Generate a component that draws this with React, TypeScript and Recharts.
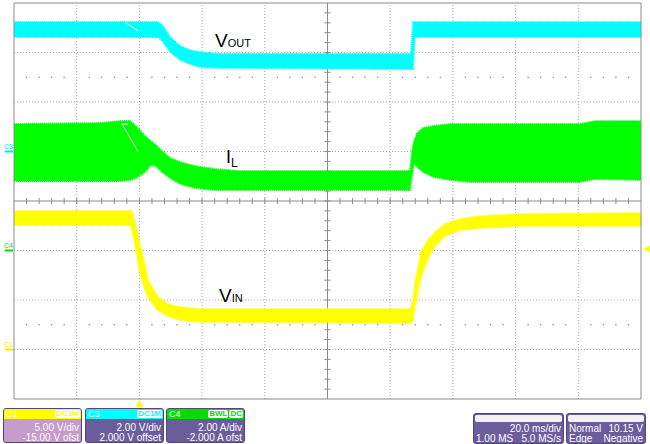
import React from "react";
import {
  Area,
  ComposedChart,
  ReferenceDot,
  ReferenceLine,
  XAxis,
  YAxis,
} from "recharts";

// 20 ms/div, 10 divisions across; the screen grid follows the C1 scale (5 V/div, 8 div)
const timeTicks = [-100, -80, -60, -40, -20, 0, 20, 40, 60, 80, 100];
const gridLevels = [-5, 0, 5, 10, 15, 20, 25, 30, 35];
const screenCenter = 15;

// C3 - VOUT (2 V/div, 2.000 V offset)
const voutTime = [-100, -54.1, -52.7, -50.2, -47.0, -43.9, -40.7, -34.3, 26.6, 27.3, 27.9, 100];
const voutHigh = [5.23, 5.23, 5.11, 4.63, 4.26, 4.1, 4.02, 3.94, 3.94, 5.23, 5.23, 5.23];
const voutLow = [4.63, 4.63, 4.46, 4.02, 3.7, 3.54, 3.41, 3.37, 3.33, 3.33, 4.63, 4.63];

// C4 - IL (2 A/div, -2.000 A offset)
const ilTime = [-100, -72.6, -66.2, -63.0, -61.1, -58.2, -56.3, -54.7, -52.8, -50.2, -47.0, -42.3, -35.9, -27.9, 26.3, 27.0, 27.6, 28.6, 30.5, 33.7, 39.1, 45.5, 80.5, 85.3, 100];
const ilHigh = [5.11, 5.15, 5.23, 5.23, 5.03, 4.63, 4.42, 4.26, 4.02, 3.74, 3.58, 3.41, 3.29, 3.21, 3.21, 4.06, 4.42, 4.75, 4.95, 5.03, 5.11, 5.11, 5.11, 5.23, 5.23];
const ilLow = [2.81, 2.81, 2.81, 2.85, 2.93, 3.17, 3.45, 3.41, 3.17, 2.93, 2.69, 2.53, 2.44, 2.44, 2.44, 3.05, 3.54, 3.37, 3.17, 2.97, 2.85, 2.77, 2.77, 2.89, 2.85];

// C1 - VIN (5 V/div, -15.00 V offset)
const vinTime = [-100, -62.7, -62.0, -61.1, -59.8, -58.5, -57.3, -54.3, -51.1, -47.0, -40.7, 26.3, 27.3, 27.9, 28.9, 30.1, 32.1, 34.3, 37.5, 42.3, 48.6, 61.4, 100];
const vinHigh = [13.99, 13.99, 13.69, 12.58, 10.56, 8.84, 7.02, 5.4, 4.6, 4.29, 4.09, 4.09, 5.0, 6.72, 8.33, 10.05, 11.06, 11.87, 12.68, 13.18, 13.48, 13.69, 13.79];
const vinLow = [12.58, 12.58, 11.57, 10.05, 7.53, 6.31, 5.3, 3.99, 3.38, 2.98, 2.78, 2.68, 2.98, 4.49, 6.01, 7.53, 9.24, 10.45, 11.46, 12.07, 12.27, 12.47, 12.47];

const triggerTime = -60;
const triggerLevel = 10.15;

const voutData = voutTime.map((t, i) => ({ t, band: [voutLow[i], voutHigh[i]] }));
const ilData = ilTime.map((t, i) => ({ t, band: [ilLow[i], ilHigh[i]] }));
const vinData = vinTime.map((t, i) => ({ t, band: [vinLow[i], vinHigh[i]] }));

// minor divisions (1/5 div) on the centre axes
const minorT = Array.from({ length: 49 }, (_, i) => -96 + i * 4);
const minorV = Array.from({ length: 39 }, (_, i) => -4 + i);
const dotT = minorT.filter((t) => t % 20 !== 0);

const FONT = "'Liberation Sans', Arial, sans-serif";
const GRID = "#a6a6a6";
const AXIS = "#8c8c8c";
const BACK = -50; // keep the graticule behind the traces

const groundMark = (name: string, color: string) => (p: any) => (
  <g>
    <text x={p.cx - 10} y={p.cy - 3} fontSize={7} fill={color} fontFamily={FONT}>
      {name}
    </text>
    <line x1={p.cx - 9} x2={p.cx - 1} y1={p.cy} y2={p.cy} stroke={color} strokeWidth={2} />
  </g>
);

const ChannelBox = ({ left, name, color, body, badges, lines }: any) => (
  <div
    style={{
      position: "absolute",
      left,
      top: 408,
      width: 77,
      height: 33,
      border: "1px solid #54467a",
      borderRadius: 3,
      background: body,
      overflow: "hidden",
      fontFamily: FONT,
      color: "#fff",
    }}
  >
    <div
      style={{
        height: 10,
        background: color,
        display: "flex",
        alignItems: "center",
        justifyContent: "space-between",
        padding: "0 1px 0 2px",
        fontSize: 9,
      }}
    >
      <span>{name}</span>
      <span style={{ display: "flex", gap: 1 }}>
        {badges.map((b: string) => (
          <span
            key={b}
            style={{
              background: "#fff",
              color,
              fontSize: 8,
              fontWeight: "bold",
              lineHeight: "8px",
              padding: "0 1px",
              borderRadius: 2,
            }}
          >
            {b}
          </span>
        ))}
      </span>
    </div>
    <div style={{ textAlign: "right", fontSize: 10, lineHeight: "10px", paddingRight: 2, paddingTop: 4 }}>
      {lines.map((l: string) => (
        <div key={l}>{l}</div>
      ))}
    </div>
  </div>
);

const InfoBox = ({ left, width, rows }: any) => (
  <div
    style={{
      position: "absolute",
      left,
      top: 413,
      width,
      height: 29,
      border: "1px solid #54467a",
      borderRadius: 3,
      background: "#6b5d9b",
      overflow: "hidden",
      fontFamily: FONT,
      color: "#fff",
      fontSize: 10,
      lineHeight: "10px",
    }}
  >
    <div style={{ height: 7, background: "#f3f3f7", margin: "1px 1px 0 1px", borderRadius: 2 }} />
    <div style={{ padding: "2px 2px 0 2px" }}>
      {rows.map((r: string[], i: number) => (
        <div key={i} style={{ display: "flex", justifyContent: "space-between" }}>
          <span>{r[0]}</span>
          <span>{r[1]}</span>
        </div>
      ))}
    </div>
  </div>
);

const bandProps = {
  type: "linear" as const,
  dataKey: "band",
  fillOpacity: 1,
  strokeWidth: 2,
  strokeDasharray: "1 1",
  dot: false,
  activeDot: false,
  isAnimationActive: false,
};

export default function App() {
  return (
    <div style={{ position: "absolute", left: 0, top: 0, width: 650, height: 444, background: "#fff" }}>
      <ComposedChart width={650} height={444} margin={{ top: 3, right: 9, bottom: 45, left: 14 }}>
        <XAxis type="number" dataKey="t" domain={[-100, 100]} ticks={timeTicks} hide allowDataOverflow />
        <YAxis yAxisId="vout" type="number" domain={[-10, 6]} hide allowDataOverflow />
        <YAxis yAxisId="il" type="number" domain={[-6, 10]} hide allowDataOverflow />
        <YAxis yAxisId="vin" type="number" domain={[-5, 35]} hide allowDataOverflow />

        {timeTicks.slice(1, -1).filter((t) => t !== 0).map((t) => (
          <ReferenceLine key={"gx" + t} x={t} yAxisId="vin" stroke={GRID} strokeDasharray="1 2" zIndex={BACK} />
        ))}
        {gridLevels.slice(1, -1).filter((v) => v !== screenCenter).map((v) => (
          <ReferenceLine key={"gy" + v} y={v} yAxisId="vin" stroke={GRID} strokeDasharray="1 2" zIndex={BACK} />
        ))}
        <ReferenceLine x={0} yAxisId="vin" stroke={AXIS} zIndex={BACK} />
        <ReferenceLine y={screenCenter} yAxisId="vin" stroke={AXIS} zIndex={BACK} />
        {minorT.map((t) => (
          <ReferenceLine
            key={"tx" + t}
            yAxisId="vin"
            stroke={AXIS}
            zIndex={BACK}
            segment={[{ x: t, y: screenCenter - 0.3 }, { x: t, y: screenCenter + 0.3 }]}
          />
        ))}
        {minorV.map((v) => (
          <ReferenceLine
            key={"ty" + v}
            yAxisId="vin"
            stroke={AXIS}
            zIndex={BACK}
            segment={[{ x: -1, y: v }, { x: 1, y: v }]}
          />
        ))}
        {dotT.map((t) => (
          <ReferenceDot key={"da" + t} x={t} y={screenCenter + 12.5} yAxisId="vin" r={0.8} fill={AXIS} stroke="none" zIndex={BACK} />
        ))}
        {dotT.map((t) => (
          <ReferenceDot key={"db" + t} x={t} y={screenCenter - 12.5} yAxisId="vin" r={0.8} fill={AXIS} stroke="none" zIndex={BACK} />
        ))}
        <ReferenceLine x={-100} yAxisId="vin" stroke="#8a8a8a" />
        <ReferenceLine x={100} yAxisId="vin" stroke="#8a8a8a" />
        <ReferenceLine y={35} yAxisId="vin" stroke="#8a8a8a" />
        <ReferenceLine y={-5} yAxisId="vin" stroke="#8a8a8a" />

        <Area {...bandProps} data={voutData} yAxisId="vout" fill="#00ffff" stroke="#00ffff" />
        <Area {...bandProps} data={ilData} yAxisId="il" fill="#00ff00" stroke="#00ff00" />
        <Area {...bandProps} data={vinData} yAxisId="vin" fill="#ffff00" stroke="#ffff00" />

        {/* cursor remnants on the traces */}
        <ReferenceLine yAxisId="vout" stroke="#ffffff" segment={[{ x: -64.6, y: 5.23 }, { x: -60.4, y: 4.87 }]} />
        <ReferenceLine yAxisId="il" stroke="#ffffff" segment={[{ x: -65.5, y: 5.11 }, { x: -60.4, y: 3.98 }]} />
        <ReferenceLine yAxisId="il" stroke="#ffffff" segment={[{ x: -65.8, y: 5.11 }, { x: -63.6, y: 5.11 }]} />

        <ReferenceDot x={-100} y={0} yAxisId="vout" ifOverflow="visible" shape={groundMark("C3", "#00e5ff")} />
        <ReferenceDot x={-100} y={0} yAxisId="il" ifOverflow="visible" shape={groundMark("C4", "#00dd00")} />
        <ReferenceDot x={-100} y={0} yAxisId="vin" ifOverflow="visible" shape={groundMark("C1", "#eeee00")} />
        <ReferenceDot
          x={100}
          y={triggerLevel}
          yAxisId="vin"
          ifOverflow="visible"
          shape={(p: any) => (
            <polygon
              points={`${p.cx + 2},${p.cy} ${p.cx + 9},${p.cy - 3.5} ${p.cx + 9},${p.cy + 3.5}`}
              fill="#ffff00"
            />
          )}
        />
        <ReferenceDot
          x={triggerTime}
          y={-5}
          yAxisId="vin"
          ifOverflow="visible"
          shape={(p: any) => (
            <polygon
              points={`${p.cx},${p.cy + 1} ${p.cx - 4},${p.cy + 8} ${p.cx + 4},${p.cy + 8}`}
              fill="#ffff00"
            />
          )}
        />
      </ComposedChart>

      <svg
        width={650}
        height={444}
        style={{ position: "absolute", left: 0, top: 0, pointerEvents: "none" }}
        fontFamily={FONT}
      >
        <text x={215} y={47} fontSize={19} fill="#000">
          V<tspan fontSize={11}>OUT</tspan>
        </text>
        <text x={226} y={163} fontSize={18} fill="#000">
          I<tspan fontSize={12} dy={4}>L</tspan>
        </text>
        <text x={219} y={302} fontSize={19} fill="#000">
          V<tspan fontSize={11}>IN</tspan>
        </text>
      </svg>

      <ChannelBox left={3} name="C1" color="#ffff00" body="#c59bcb" badges={["DC1M"]} lines={["5.00 V/div", "-15.00 V ofst"]} />
      <ChannelBox left={85} name="C3" color="#00ffff" body="#6b5d9b" badges={["DC1M"]} lines={["2.00 V/div", "2.000 V offset"]} />
      <ChannelBox left={166} name="C4" color="#00e000" body="#6b5d9b" badges={["BWL", "DC"]} lines={["2.00 A/div", "-2.000 A ofst"]} />
      <InfoBox left={473} width={89} rows={[["", "20.0 ms/div"], ["1.00 MS", "5.0 MS/s"]]} />
      <InfoBox left={566} width={78} rows={[["Normal", "10.15 V"], ["Edge", "Negative"]]} />
    </div>
  );
}
